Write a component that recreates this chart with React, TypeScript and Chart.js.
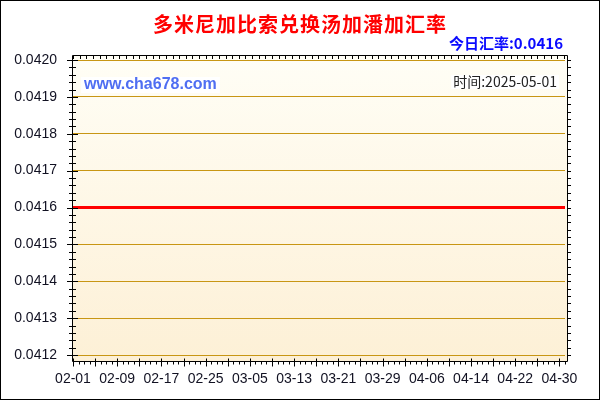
import { useEffect, useRef } from 'react'
import Chart from 'chart.js/auto';

// rate data (DOP -> TOP)
const tickLabels = ['02-01', '02-09', '02-17', '02-25', '03-05', '03-13', '03-21', '03-29', '04-06', '04-14', '04-22', '04-30'];
const tickDays = [0, 8, 16, 24, 32, 40, 48, 56, 64, 72, 80, 88];
const rateDays = [0, 8, 16, 24, 32, 40, 48, 56, 64, 72, 80, 88, 89];
const rateValues = [0.0416, 0.0416, 0.0416, 0.0416, 0.0416, 0.0416, 0.0416, 0.0416, 0.0416, 0.0416, 0.0416, 0.0416, 0.0416];
const yTicks = [0.0412, 0.0413, 0.0414, 0.0415, 0.0416, 0.0417, 0.0418, 0.0419, 0.0420];
const lastDay = 89; // 05-01

const title = '多米尼加比索兑换汤加潘加汇率';
const todayText = '今日汇率:0.0416';
const timeText = '时间:2025-05-01';
const siteText = 'www.cha678.com';

const FONT = '"Liberation Sans", Arial, sans-serif';
const CJK = '"Noto Sans CJK SC", "Liberation Sans", sans-serif';

const framePlugin = {
    id: 'frame',
    beforeDraw(chart: any) {
        const { ctx, chartArea } = chart;
        const fl = chartArea.left - 1, fr = chartArea.right + 3, ft = chartArea.top - 5, fb = chartArea.bottom + 6;
        ctx.save();
        ctx.fillStyle = '#ffffff';
        ctx.fillRect(0, 0, chart.width, chart.height);
        const g = ctx.createLinearGradient(0, ft, 0, fb);
        g.addColorStop(0, '#fffef6');
        g.addColorStop(1, '#fdf0d6');
        ctx.fillStyle = g;
        ctx.fillRect(fl, ft, fr - fl, fb - ft);
        ctx.restore();
    },
    afterDraw(chart: any) {
        const { ctx, chartArea } = chart;
        const xs = chart.scales.x, ys = chart.scales.y;
        const fl = chartArea.left - 0.5, fr = chartArea.right + 2.5, ft = chartArea.top - 4.5, fb = chartArea.bottom + 6.5;
        ctx.save();
        ctx.strokeStyle = '#000000';
        ctx.lineWidth = 1;
        ctx.beginPath();
        ctx.rect(fl, ft, fr - fl, fb - ft);
        // y ticks (left crossing, right outward)
        const steps = Math.round((ys.max - ys.min) / 0.00002);
        for (let i = 0; i <= steps; i++) {
            const y = Math.round(ys.getPixelForValue(ys.min + i * 0.00002)) + 0.5;
            if (i % 5 === 0) {
                ctx.moveTo(fl - 5.5, y); ctx.lineTo(fl + 5.5, y);
            } else {
                ctx.moveTo(fl - 3.5, y); ctx.lineTo(fl + 3.5, y);
            }
            ctx.moveTo(fr, y); ctx.lineTo(fr + 3.5, y);
        }
        // bottom daily ticks
        for (let d = 0; d <= lastDay; d++) {
            const x = Math.round(xs.getPixelForValue(d)) + 0.5;
            if (d % 4 === 0) {
                ctx.moveTo(x, fb - 3); ctx.lineTo(x, fb + 5);
            } else {
                ctx.moveTo(x, fb); ctx.lineTo(x, fb + 3);
            }
        }
        // top ticks
        for (let d = 0; d <= lastDay; d += 1.2) {
            const x = Math.round(xs.getPixelForValue(d)) + 0.5;
            ctx.moveTo(x, ft); ctx.lineTo(x, ft + 3.5);
        }
        ctx.stroke();

        // outer border
        ctx.strokeRect(0.5, 0.5, chart.width - 1, chart.height - 1);

        // title
        ctx.fillStyle = '#ff0000';
        ctx.font = 'bold 20px ' + CJK;
        ctx.textAlign = 'center';
        ctx.textBaseline = 'middle';
        (ctx as any).letterSpacing = '1px';
        ctx.fillText(title, chart.width / 2, 24);
        (ctx as any).letterSpacing = '0px';

        // today rate
        ctx.fillStyle = '#0a0aff';
        ctx.font = 'bold 15px ' + CJK;
        ctx.textAlign = 'right';
        ctx.fillText(todayText, chartArea.right - 2, 43);

        // site watermark
        ctx.font = 'bold 16px ' + FONT;
        ctx.textAlign = 'left';
        const sw = ctx.measureText(siteText).width;
        ctx.fillStyle = '#ffffff';
        ctx.fillRect(chartArea.left + 8, 77, sw + 6, 16);
        ctx.fillStyle = '#4f6ef2';
        ctx.fillText(siteText, chartArea.left + 11, 85);

        // time
        ctx.font = '14px ' + CJK;
        ctx.textAlign = 'right';
        const tw = ctx.measureText(timeText).width;
        ctx.fillStyle = '#ffffff';
        ctx.fillRect(chartArea.right - 10 - tw, 75, tw + 4, 14);
        ctx.fillStyle = '#222222';
        ctx.fillText(timeText, chartArea.right - 8, 82);
        ctx.restore();
    }
};

const App = () => {

    const chartRef = useRef<HTMLCanvasElement>(null);

    useEffect(() => {
        if (!chartRef.current) return;

        const myChart = new Chart(chartRef.current, {
            type: 'line',
            data: {
                datasets: [
                    {
                        label: 'rate',
                        data: rateDays.map((d, i) => ({ x: d, y: rateValues[i] })),
                        borderColor: '#ff0000',
                        backgroundColor: '#ff0000',
                        borderWidth: 3,
                        pointRadius: 0,
                        tension: 0,
                    }
                ]
            },
            options: {
                animation: false,
                responsive: false,
                devicePixelRatio: 1,
                layout: { padding: { left: 0, right: 35, top: 60, bottom: 0 } },
                scales: {
                    x: {
                        type: 'linear',
                        min: 0,
                        max: lastDay,
                        afterBuildTicks: (s: any) => { s.ticks = tickDays.map(v => ({ value: v })) },
                        afterFit: (s: any) => { s.height = 45 },
                        grid: { display: false, drawTicks: false },
                        border: { display: false },
                        ticks: {
                            autoSkip: false,
                            maxRotation: 0,
                            padding: 16,
                            color: '#111122',
                            font: { family: FONT, size: 14 },
                            callback: (v: any) => tickLabels[tickDays.indexOf(Number(v))] ?? '',
                        }
                    },
                    y: {
                        min: yTicks[0],
                        max: yTicks[yTicks.length - 1],
                        afterBuildTicks: (s: any) => { s.ticks = yTicks.map(v => ({ value: v })) },
                        afterFit: (s: any) => { s.width = 73 },
                        grid: { color: '#c89614', lineWidth: 1, drawTicks: false },
                        border: { display: false },
                        ticks: {
                            padding: 16,
                            color: '#111122',
                            font: { family: FONT, size: 14 },
                            callback: (v: any) => Number(v).toFixed(4),
                        }
                    }
                },
                plugins: {
                    legend: { display: false },
                    tooltip: { enabled: false },
                }
            },
            plugins: [framePlugin]
        })

        return () => {
            myChart.destroy()
        }
    }, [])

    return (
        <div style={{ position: 'absolute', left: 0, top: 0, width: 600, height: 400 }}>
            <canvas ref={chartRef} width={600} height={400} style={{ display: 'block' }} />
        </div>
    )
}

export default App;
